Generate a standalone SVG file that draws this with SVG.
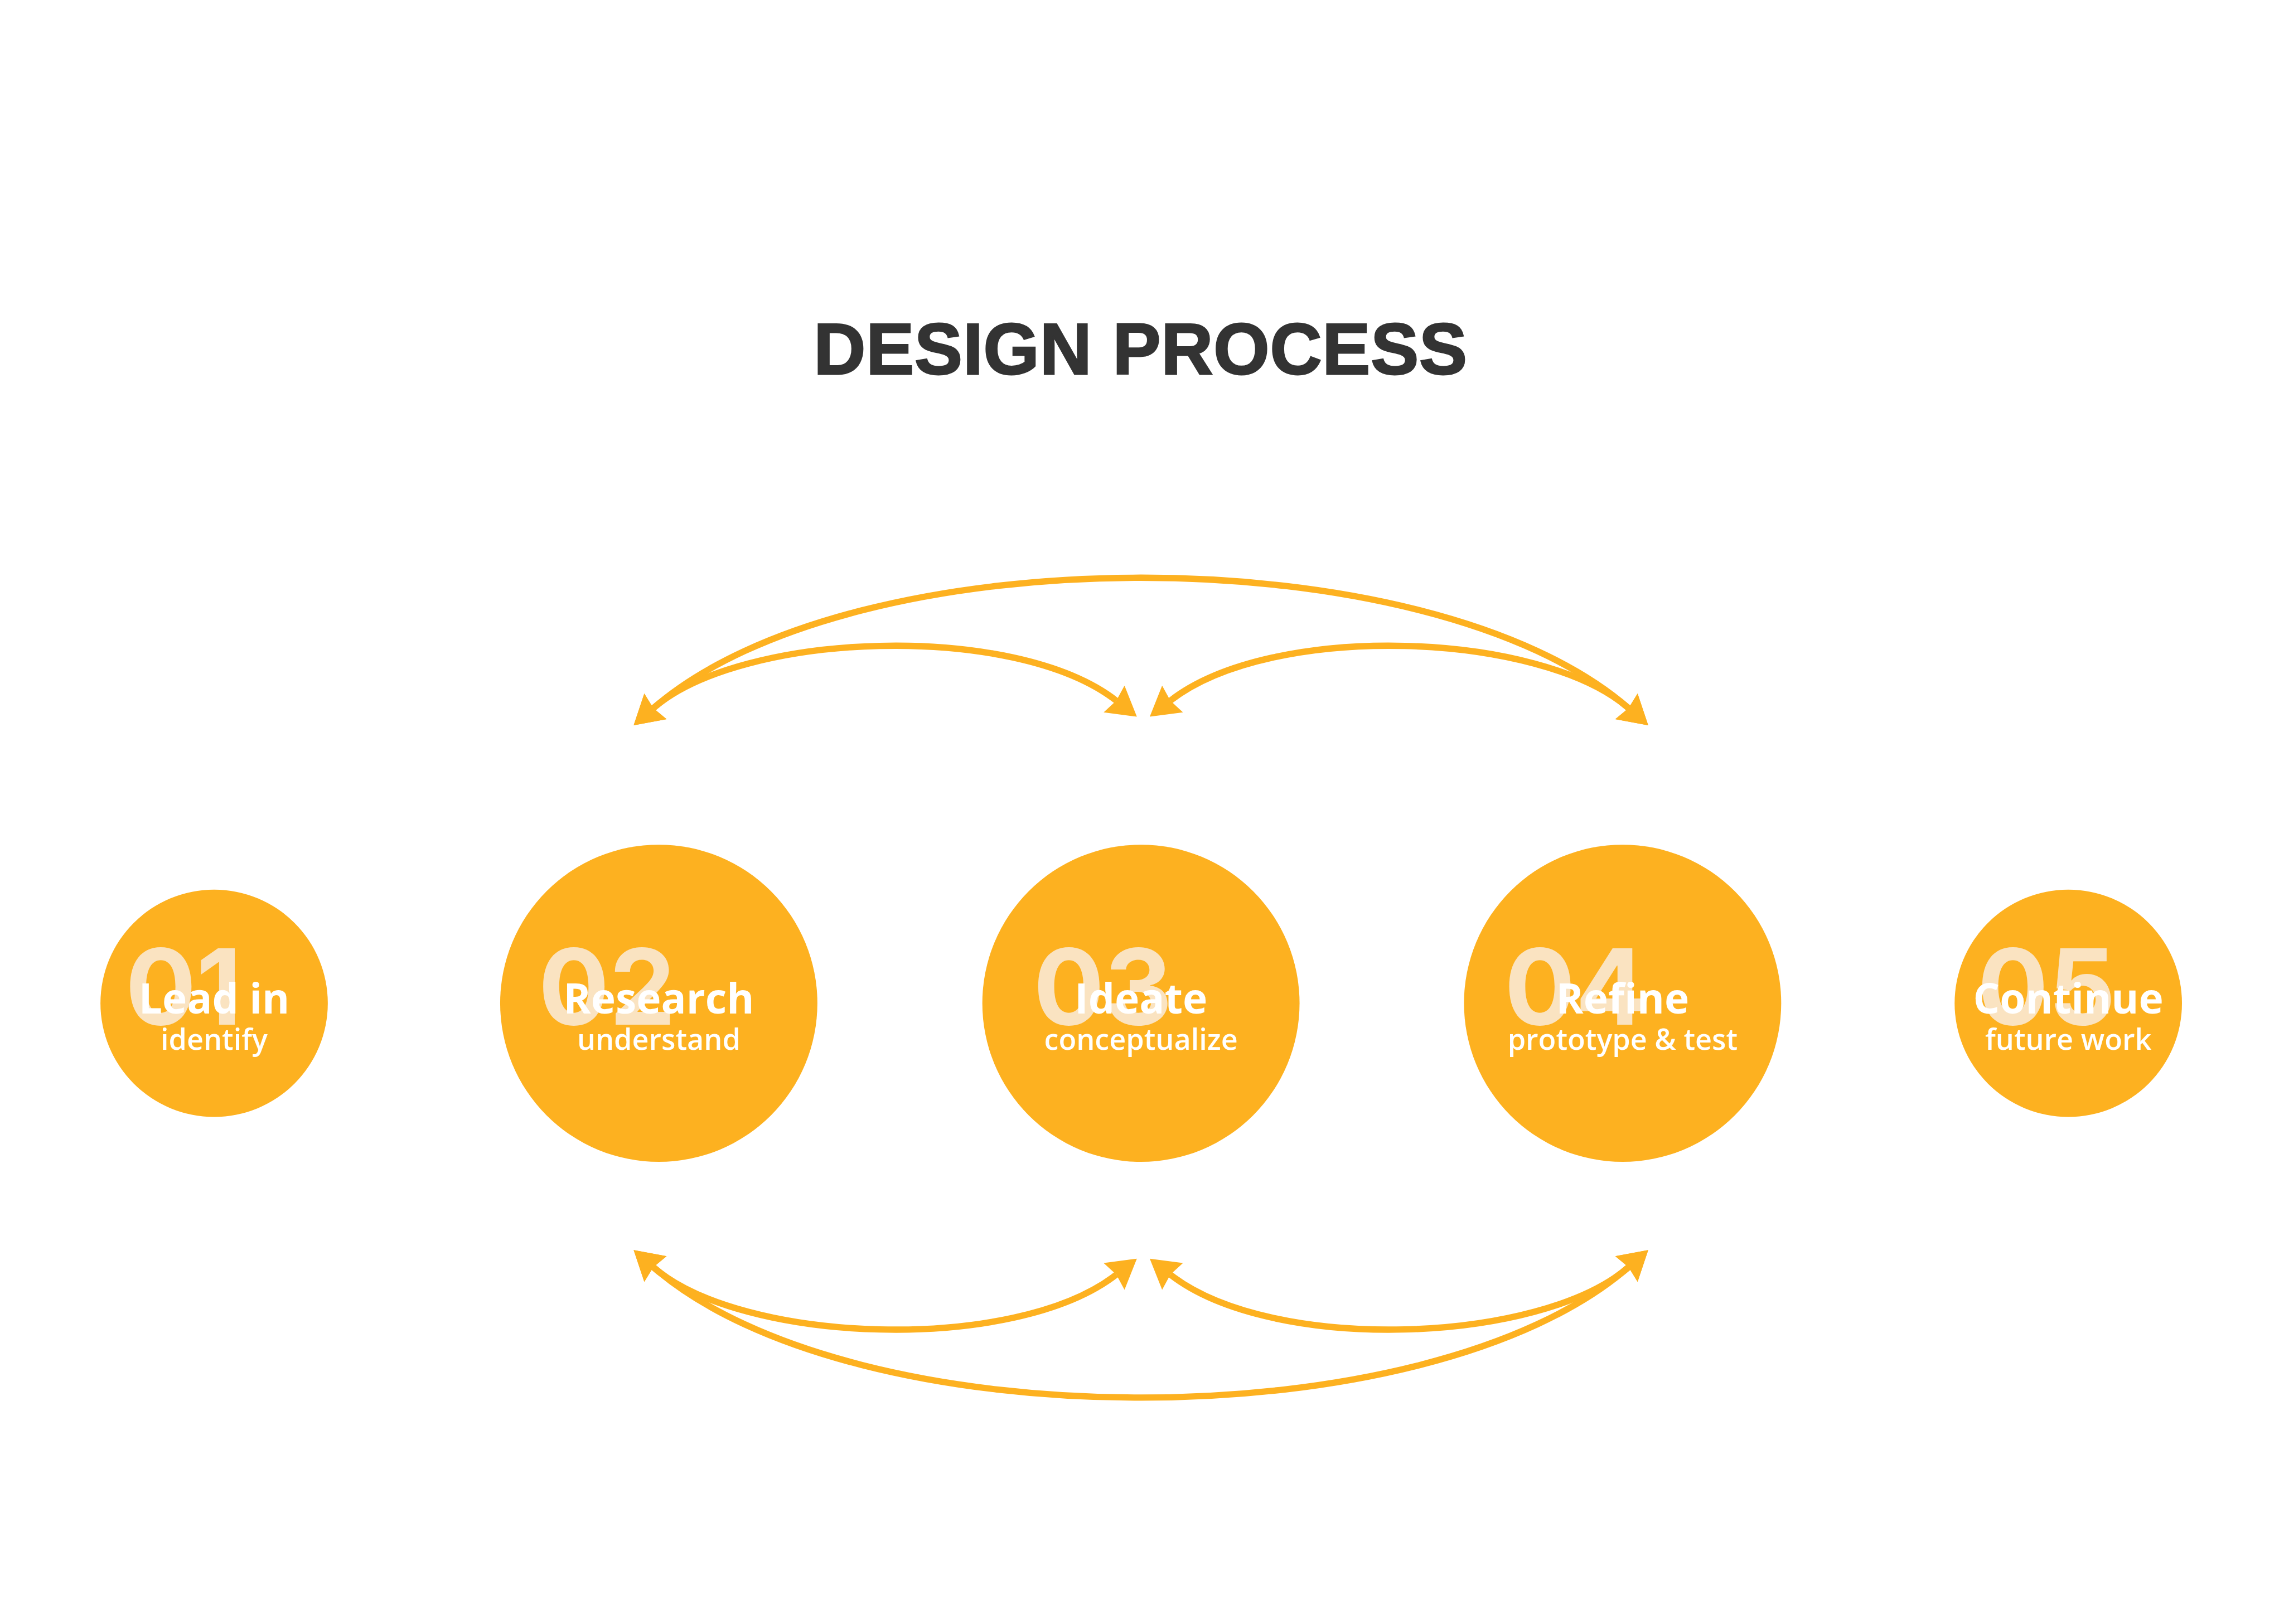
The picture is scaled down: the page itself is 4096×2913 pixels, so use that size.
<svg xmlns="http://www.w3.org/2000/svg" width="4096" height="2913" viewBox="0 0 4096 2913">
<style>
.node{fill:#FDB120}
.num{font-family:Inter,"Open Sans",sans-serif;font-weight:700;font-size:199px;fill:#FAE3C1;text-anchor:middle}
.lbl{font-family:"Open Sans","Liberation Sans",sans-serif;font-weight:700;font-size:79px;fill:#FFFFFF;text-anchor:middle}
.sub{font-family:"Open Sans","Liberation Sans",sans-serif;font-weight:600;font-size:55px;fill:#FFFFFF;text-anchor:middle}
.title{font-family:"Liberation Sans",Arial,sans-serif;font-weight:700;font-size:136px;fill:#333333;stroke:#333333;stroke-width:3;text-anchor:middle}
.arc{fill:none;stroke:#FDB120;stroke-width:12;marker-start:url(#ah);marker-end:url(#ah)}
</style>
<defs>
<marker id="ah" markerUnits="userSpaceOnUse" orient="auto-start-reverse" refX="5" refY="0" markerWidth="60" markerHeight="70" viewBox="0 -32 56 64" overflow="visible">
<path d="M0,-30 L51,0 L0,30 L5,0 Z" fill="#FDB120"/>
</marker>
</defs>
<rect x="0" y="0" width="4096" height="2913" fill="#FFFFFF"/>
<g transform="scale(0.948148)">
<text class="title" x="2157" y="708" textLength="1236" lengthAdjust="spacing">DESIGN PROCESS</text>
<g id="connectors">
<path class="arc" d="M1235.7,1339.8 C1613.9,1010.7 2702.1,1010.7 3080.3,1339.8"/>
<path class="arc" d="M1235.7,1339.8 C1402,1195 1917.9,1175 2111.4,1325.6"/>
<path class="arc" d="M2213.6,1325.6 C2407.1,1175 2914,1195 3080.3,1339.8"/>
<path class="arc" d="M1235.7,2397.2 C1613.9,2726.3 2702.1,2726.3 3080.3,2397.2"/>
<path class="arc" d="M1235.7,2397.2 C1402,2542 1917.9,2562 2111.4,2411.4"/>
<path class="arc" d="M2213.6,2411.4 C2407.1,2562 2914,2542 3080.3,2397.2"/>
</g>
<g id="node-01">
<circle class="node" cx="405" cy="1898" r="215"/>
<text class="num" x="347" y="1938">01</text>
<text class="lbl" x="405" y="1917">Lead in</text>
<text class="sub" x="405" y="1986">identify</text>
</g>
<g id="node-02">
<circle class="node" cx="1246" cy="1898" r="300"/>
<text class="num" x="1148" y="1938">02</text>
<text class="lbl" x="1246" y="1917">Research</text>
<text class="sub" x="1246" y="1986">understand</text>
</g>
<g id="node-03">
<circle class="node" cx="2158" cy="1898" r="300"/>
<text class="num" x="2086" y="1938">03</text>
<text class="lbl" x="2158" y="1917">Ideate</text>
<text class="sub" x="2158" y="1986">conceptualize</text>
</g>
<g id="node-04">
<circle class="node" cx="3069" cy="1898" r="300"/>
<text class="num" x="2980" y="1938">04</text>
<text class="lbl" x="3069" y="1917">Refine</text>
<text class="sub" x="3069" y="1986">prototype &amp; test</text>
</g>
<g id="node-05">
<circle class="node" cx="3912" cy="1898" r="215"/>
<text class="num" x="3871" y="1938">05</text>
<text class="lbl" x="3912" y="1917">Continue</text>
<text class="sub" x="3912" y="1986">future work</text>
</g>
</g>
</svg>
